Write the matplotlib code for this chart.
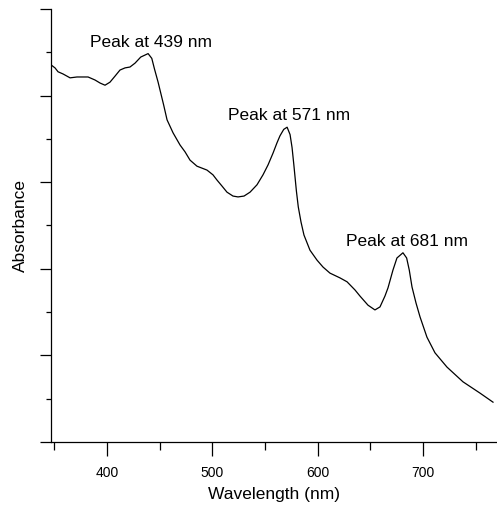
import matplotlib
matplotlib.use("Agg")
import matplotlib.pyplot as plt
from matplotlib.ticker import MultipleLocator, NullFormatter

plt.rcParams['font.family'] = ['Liberation Sans', 'DejaVu Sans']

wavelength = [346.8, 350.6, 353.5, 358.2, 364.9, 371.5, 382.0, 388.6, 393.4, 398.1,
              402.8, 407.6, 412.3, 417.1, 421.8, 426.6, 432.0, 439.0, 442.5, 445.0,
              448.5, 451.0, 453.8, 457.0, 462.7, 469.3, 474.1, 478.8, 485.4, 494.9,
              500.6, 504.4, 509.2, 513.9, 519.6, 524.4, 530.1, 535.8, 542.4, 548.1,
              552.9, 557.6, 561.4, 564.2, 567.8, 571.0, 573.8, 575.7, 577.4, 579.8,
              581.6, 584.2, 587.0, 592.7, 599.4, 605.1, 611.7, 621.2, 627.9, 635.5,
              640.2, 647.8, 654.4, 659.2, 663.9, 666.8, 671.5, 675.3, 681.0, 684.5,
              687.0, 689.6, 693.4, 697.2, 703.8, 711.4, 722.8, 738.0, 754.1, 766.5]
absorbance = [0.871, 0.864, 0.855, 0.850, 0.841, 0.843, 0.843, 0.836, 0.829, 0.824,
              0.831, 0.845, 0.859, 0.864, 0.866, 0.875, 0.889, 0.897, 0.886, 0.862,
              0.831, 0.806, 0.778, 0.744, 0.714, 0.686, 0.670, 0.651, 0.637, 0.628,
              0.617, 0.605, 0.591, 0.577, 0.568, 0.566, 0.568, 0.577, 0.594, 0.617,
              0.640, 0.667, 0.691, 0.707, 0.722, 0.727, 0.710, 0.680, 0.640, 0.580,
              0.543, 0.508, 0.478, 0.443, 0.420, 0.404, 0.390, 0.379, 0.370, 0.351,
              0.337, 0.316, 0.305, 0.312, 0.337, 0.356, 0.397, 0.425, 0.437, 0.425,
              0.397, 0.358, 0.321, 0.289, 0.242, 0.206, 0.173, 0.139, 0.113, 0.092]

peak_labels = ["Peak at 439 nm", "Peak at 571 nm", "Peak at 681 nm"]
peak_label_x = [441.3, 572.4, 684.9]
peak_label_y = [0.913, 0.744, 0.453]

x_major_ticks = [400, 500, 600, 700]
x_tick_labels = ["400", "500", "600", "700"]

fig = plt.figure(figsize=(4.97, 5.05), dpi=100)
ax = fig.add_axes([51/497, 63/505, 446/497, 433/505])

ax.plot(wavelength, absorbance, color='black', lw=0.9)

ax.set_xlim(346.8, 770.3)
ax.set_ylim(0, 1.0)

for sp in ['top', 'right']:
    ax.spines[sp].set_visible(False)
for sp in ['left', 'bottom']:
    ax.spines[sp].set_linewidth(0.9)

ax.set_xticks(x_major_ticks)
ax.set_xticklabels(x_tick_labels)
ax.xaxis.set_minor_locator(MultipleLocator(50))
ax.yaxis.set_major_locator(MultipleLocator(0.2))
ax.yaxis.set_minor_locator(MultipleLocator(0.1))
ax.yaxis.set_major_formatter(NullFormatter())

ax.tick_params(axis='x', which='major', length=10, width=0.9, direction='out', labelsize=10, pad=7)
ax.tick_params(axis='x', which='minor', length=5.8, width=0.9, direction='out')
ax.tick_params(axis='y', which='major', length=8, width=0.9, direction='out')
ax.tick_params(axis='y', which='minor', length=3.6, width=0.9, direction='out')

ax.set_xlabel("Wavelength (nm)", fontsize=12.5, labelpad=5)
ax.set_ylabel("Absorbance", fontsize=12.5, labelpad=5)

for txt, x, y in zip(peak_labels, peak_label_x, peak_label_y):
    ax.text(x, y, txt, ha='center', va='baseline', fontsize=12.5)

fig.savefig("out.png", dpi=100)
